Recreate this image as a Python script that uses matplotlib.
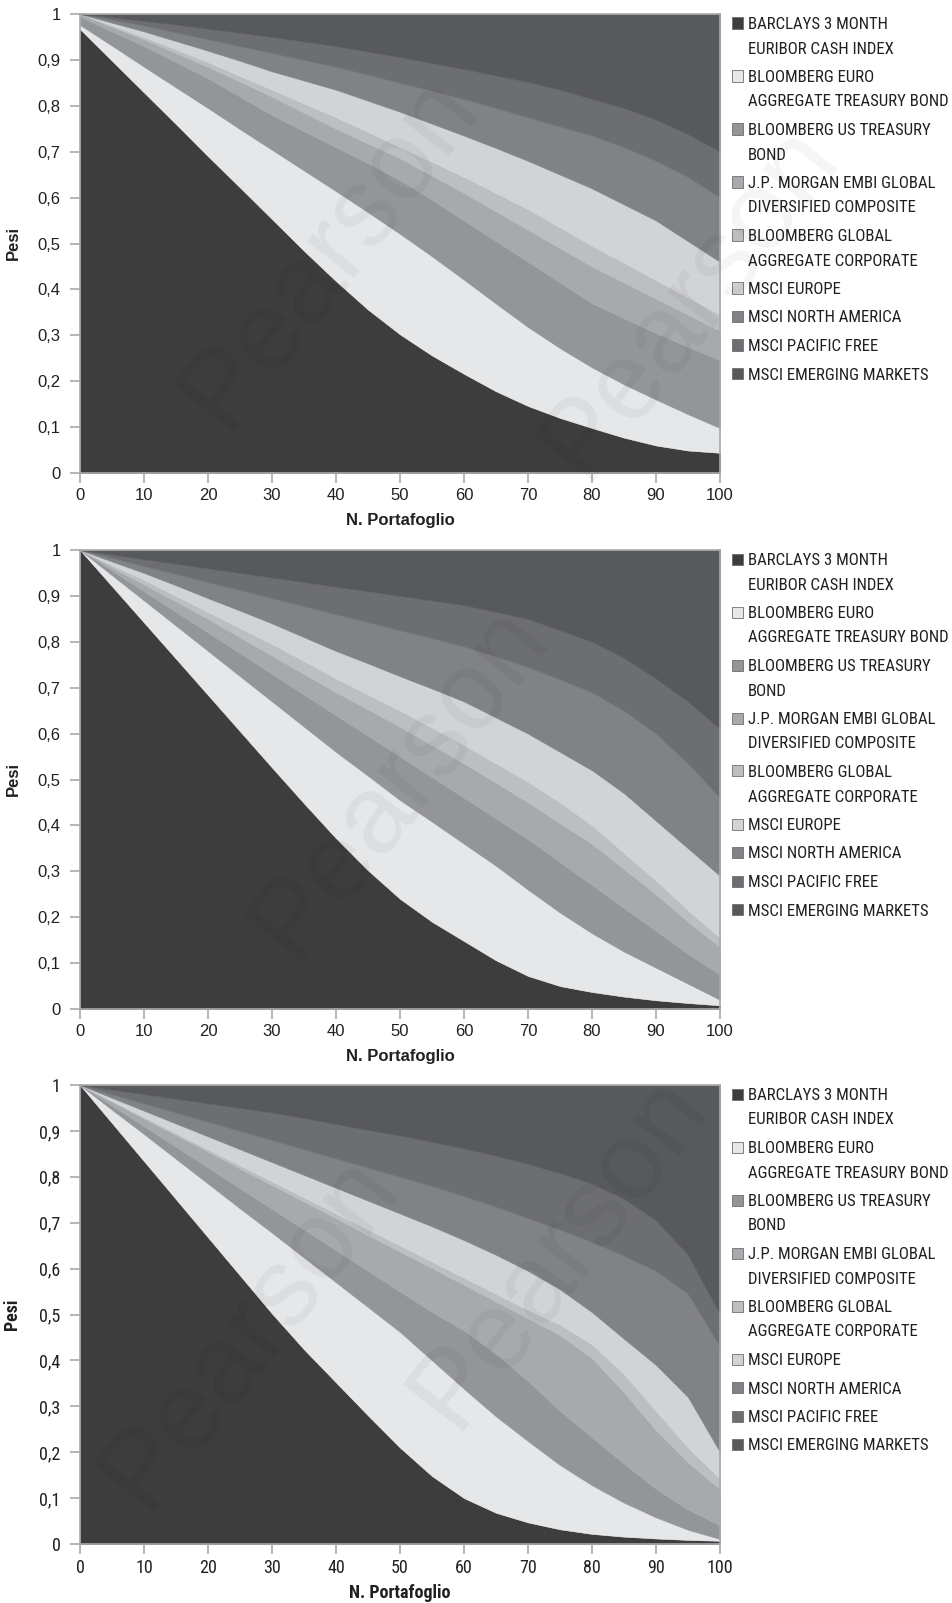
import os
import numpy as np
import matplotlib.pyplot as plt
from matplotlib import font_manager as fm
from matplotlib.patches import Rectangle

# Portfolio index along the efficient frontier
portafoglio = np.arange(0, 101, 5)

labels = [
    "BARCLAYS 3 MONTH\nEURIBOR CASH INDEX",
    "BLOOMBERG EURO\nAGGREGATE TREASURY BOND",
    "BLOOMBERG US TREASURY\nBOND",
    "J.P. MORGAN EMBI GLOBAL\nDIVERSIFIED COMPOSITE",
    "BLOOMBERG GLOBAL\nAGGREGATE CORPORATE",
    "MSCI EUROPE",
    "MSCI NORTH AMERICA",
    "MSCI PACIFIC FREE",
    "MSCI EMERGING MARKETS",
]
colors = ["#3d3d3e", "#e6e7e8", "#939598", "#a7a9ac", "#bcbec0",
          "#d1d3d4", "#808285", "#6d6e71", "#58595b"]

# --- top chart: weights per asset class ---
a_cash = [0.967, 0.898, 0.829, 0.760, 0.690, 0.622, 0.553, 0.484, 0.418, 0.356, 0.302,
          0.256, 0.216, 0.178, 0.146, 0.120, 0.098, 0.077, 0.060, 0.049, 0.044]
a_euro_tsy = [0.009, 0.033, 0.056, 0.080, 0.105, 0.127, 0.151, 0.175, 0.196, 0.212, 0.219,
              0.216, 0.205, 0.191, 0.172, 0.152, 0.132, 0.116, 0.100, 0.079, 0.054]
a_us_tsy = [0.018, 0.031, 0.045, 0.055, 0.065, 0.071, 0.076, 0.086, 0.096, 0.107, 0.117,
            0.123, 0.129, 0.136, 0.142, 0.143, 0.140, 0.144, 0.145, 0.147, 0.148]
a_embi = [0.006, 0.010, 0.015, 0.020, 0.025, 0.033, 0.040, 0.040, 0.040, 0.043, 0.048,
          0.053, 0.060, 0.065, 0.070, 0.075, 0.080, 0.078, 0.075, 0.070, 0.064]
a_corp = [0.000, 0.003, 0.005, 0.008, 0.010, 0.012, 0.015, 0.020, 0.025, 0.025, 0.024,
          0.030, 0.035, 0.040, 0.045, 0.045, 0.045, 0.043, 0.040, 0.038, 0.035]
a_europe = [0.000, 0.006, 0.012, 0.018, 0.025, 0.033, 0.040, 0.050, 0.060, 0.068, 0.077,
            0.083, 0.090, 0.098, 0.105, 0.115, 0.125, 0.127, 0.130, 0.122, 0.115]
a_namerica = [0.000, 0.007, 0.013, 0.019, 0.025, 0.032, 0.040, 0.045, 0.050, 0.057, 0.063,
              0.072, 0.080, 0.087, 0.095, 0.105, 0.115, 0.125, 0.130, 0.140, 0.140]
a_pacific = [0.000, 0.005, 0.010, 0.017, 0.023, 0.029, 0.035, 0.040, 0.045, 0.050, 0.056,
             0.060, 0.065, 0.071, 0.077, 0.080, 0.080, 0.085, 0.090, 0.093, 0.100]
a_emerging = [0.000, 0.007, 0.015, 0.023, 0.032, 0.041, 0.050, 0.060, 0.070, 0.082, 0.094,
              0.107, 0.120, 0.134, 0.148, 0.165, 0.185, 0.205, 0.230, 0.262, 0.300]

# --- middle chart ---
b_cash = [1.000, 0.921, 0.842, 0.763, 0.684, 0.605, 0.526, 0.448, 0.372, 0.302, 0.240,
          0.190, 0.148, 0.106, 0.072, 0.050, 0.037, 0.027, 0.019, 0.013, 0.008]
b_euro_tsy = [0.000, 0.024, 0.048, 0.072, 0.096, 0.120, 0.144, 0.167, 0.188, 0.206, 0.215,
              0.218, 0.212, 0.206, 0.188, 0.160, 0.128, 0.098, 0.071, 0.042, 0.012]
b_us_tsy = [0.000, 0.010, 0.020, 0.030, 0.040, 0.050, 0.060, 0.070, 0.080, 0.087, 0.095,
            0.097, 0.100, 0.103, 0.110, 0.110, 0.105, 0.095, 0.080, 0.065, 0.055]
b_embi = [0.000, 0.007, 0.015, 0.023, 0.030, 0.035, 0.040, 0.045, 0.050, 0.058, 0.065,
          0.070, 0.075, 0.078, 0.080, 0.085, 0.090, 0.085, 0.080, 0.070, 0.060]
b_corp = [0.000, 0.005, 0.010, 0.012, 0.015, 0.020, 0.025, 0.028, 0.030, 0.032, 0.035,
          0.038, 0.040, 0.042, 0.045, 0.045, 0.040, 0.035, 0.030, 0.025, 0.020]
b_europe = [0.000, 0.008, 0.015, 0.023, 0.030, 0.038, 0.045, 0.052, 0.060, 0.068, 0.075,
            0.085, 0.095, 0.100, 0.105, 0.110, 0.120, 0.130, 0.130, 0.135, 0.135]
b_namerica = [0.000, 0.008, 0.015, 0.025, 0.035, 0.045, 0.055, 0.068, 0.080, 0.090, 0.100,
              0.110, 0.120, 0.133, 0.145, 0.158, 0.170, 0.180, 0.190, 0.185, 0.170]
b_pacific = [0.000, 0.007, 0.015, 0.022, 0.030, 0.037, 0.045, 0.052, 0.060, 0.067, 0.075,
             0.082, 0.090, 0.097, 0.105, 0.107, 0.110, 0.115, 0.120, 0.135, 0.150]
b_emerging = [0.000, 0.010, 0.020, 0.030, 0.040, 0.050, 0.060, 0.070, 0.080, 0.090, 0.100,
              0.110, 0.120, 0.135, 0.150, 0.175, 0.200, 0.235, 0.280, 0.330, 0.390]

# --- bottom chart ---
c_cash = [1.000, 0.917, 0.834, 0.751, 0.668, 0.585, 0.502, 0.424, 0.352, 0.280, 0.210,
          0.148, 0.100, 0.068, 0.047, 0.032, 0.022, 0.016, 0.012, 0.009, 0.007]
c_euro_tsy = [0.000, 0.029, 0.059, 0.088, 0.117, 0.146, 0.176, 0.200, 0.218, 0.236, 0.252,
              0.252, 0.238, 0.210, 0.177, 0.140, 0.106, 0.074, 0.046, 0.022, 0.004]
c_us_tsy = [0.000, 0.009, 0.017, 0.026, 0.035, 0.044, 0.052, 0.061, 0.070, 0.079, 0.088,
            0.105, 0.127, 0.137, 0.131, 0.118, 0.104, 0.085, 0.062, 0.044, 0.029]
c_embi = [0.000, 0.009, 0.017, 0.026, 0.035, 0.043, 0.052, 0.061, 0.070, 0.078, 0.087,
          0.096, 0.100, 0.113, 0.137, 0.165, 0.173, 0.155, 0.128, 0.103, 0.080]
c_corp = [0.000, 0.001, 0.003, 0.004, 0.005, 0.007, 0.008, 0.009, 0.010, 0.012, 0.013,
          0.014, 0.015, 0.017, 0.018, 0.023, 0.030, 0.040, 0.042, 0.032, 0.022]
c_europe = [0.000, 0.007, 0.014, 0.021, 0.028, 0.035, 0.042, 0.049, 0.056, 0.063, 0.070,
            0.077, 0.082, 0.085, 0.085, 0.077, 0.070, 0.077, 0.100, 0.110, 0.058]
c_namerica = [0.000, 0.008, 0.016, 0.024, 0.032, 0.040, 0.048, 0.056, 0.064, 0.072, 0.080,
              0.088, 0.096, 0.105, 0.115, 0.130, 0.153, 0.181, 0.205, 0.225, 0.230]
c_pacific = [0.000, 0.010, 0.020, 0.030, 0.040, 0.050, 0.060, 0.068, 0.075, 0.082, 0.090,
             0.096, 0.104, 0.111, 0.118, 0.123, 0.127, 0.124, 0.110, 0.085, 0.070]
c_emerging = [0.000, 0.010, 0.020, 0.030, 0.040, 0.050, 0.060, 0.072, 0.085, 0.098, 0.110,
              0.124, 0.138, 0.154, 0.172, 0.192, 0.215, 0.248, 0.295, 0.370, 0.500]

panels = [
    [a_cash, a_euro_tsy, a_us_tsy, a_embi, a_corp, a_europe, a_namerica, a_pacific, a_emerging],
    [b_cash, b_euro_tsy, b_us_tsy, b_embi, b_corp, b_europe, b_namerica, b_pacific, b_emerging],
    [c_cash, c_euro_tsy, c_us_tsy, c_embi, c_corp, c_europe, c_namerica, c_pacific, c_emerging],
]

x_ticks = np.arange(0, 101, 10)
y_ticks = np.round(np.arange(0, 1.01, 0.1), 1)
y_ticklabels = ["0"] + [f"{v:.1f}".replace(".", ",") for v in y_ticks[1:-1]] + ["1"]


def find_narrow(bold):
    # look for a condensed sans face among the installed fonts
    wanted = ["liberationsansnarrow", "notosans-condensed", "robotocondensed",
              "opensans_condensed", "opensans-condensed", "dejavusanscondensed"]
    skip = ["italic", "oblique", "light", "medium", "black", "thin", "semi", "extra"]
    for key in wanted:
        for f in fm.fontManager.ttflist:
            base = os.path.basename(f.fname).lower()
            if key not in base or any(s in base for s in skip):
                continue
            if ("bold" in base) == bold:
                return f.fname
    return None


def fprop(narrow, bold, size):
    if narrow:
        path = find_narrow(bold)
        if path:
            return fm.FontProperties(fname=path, size=size)
        return fm.FontProperties(family=["Roboto", "DejaVu Sans"], size=size,
                                 weight="bold" if bold else "normal")
    return fm.FontProperties(family=["Liberation Sans", "DejaVu Sans"], size=size,
                             weight="bold" if bold else "normal")


W, H = 953, 1603
fig = plt.figure(figsize=(W / 100, H / 100), dpi=100)
renderer = fig.canvas.get_renderer()

# size the legend font so the widest line spans about 200 px
probe = fig.text(0, 0, "AGGREGATE TREASURY BOND", fontproperties=fprop(True, False, 12))
probe_w = probe.get_window_extent(renderer).width
probe.remove()
legend_size = 12 * 200 / probe_w

axes_tops = [14, 550, 1085]
ax_h = 459
spine_col = "#a7a9ac"
ink = "#231f20"

for i, (weights, top) in enumerate(zip(panels, axes_tops)):
    ax = fig.add_axes([80 / W, (H - top - ax_h) / H, 640 / W, ax_h / H])
    ax.stackplot(portafoglio, *weights, colors=colors, edgecolor="face", linewidth=0.4)
    ax.set_xlim(0, 100)
    ax.set_ylim(0, 1)

    cond = (i == 2)
    tick_fp = fprop(cond, False, 13 if cond else 12)
    lab_fp = fprop(cond, True, 13 if cond else 12)
    ax.set_xticks(x_ticks)
    ax.set_yticks(y_ticks)
    ax.set_xticklabels([str(v) for v in x_ticks], fontproperties=tick_fp)
    ax.set_yticklabels(y_ticklabels, fontproperties=tick_fp)
    ax.tick_params(axis="both", direction="out", length=7, width=1.2, color=spine_col,
                   labelcolor=ink)
    ax.tick_params(axis="y", pad=7)
    ax.tick_params(axis="x", pad=4)
    for s in ax.spines.values():
        s.set_color(spine_col)
        s.set_linewidth(1.2)

    ax.set_xlabel("N. Portafoglio", fontproperties=lab_fp, color=ink)
    ax.set_ylabel("Pesi", fontproperties=lab_fp, color=ink)
    ax.xaxis.set_label_coords(0.5, -0.088)
    ax.yaxis.set_label_coords(-0.092, 0.5)

    # legend: square key aligned with the first line of each label
    y = top + 9
    for lab, col in zip(labels, colors):
        fig.add_artist(Rectangle((732 / W, 1 - (y + 5.5) / H), 11 / W, 11 / H,
                                 transform=fig.transFigure, facecolor=col,
                                 edgecolor="#6d6e71", linewidth=0.6))
        for line in lab.split("\n"):
            fig.text(748 / W, 1 - y / H, line, ha="left", va="center_baseline",
                     color=ink, fontproperties=fprop(True, False, legend_size))
            y += 24.5
        y += 4

# faint publisher watermark across the page
for (wx, wy) in [(330, 250), (690, 300), (400, 780), (560, 1250), (250, 1330)]:
    fig.text(wx / W, 1 - wy / H, "Pearson", fontsize=80, rotation=52,
             ha="center", va="center", color="black", alpha=0.045,
             family=["Liberation Sans", "DejaVu Sans"], zorder=10)

fig.savefig("out.png", dpi=100)
